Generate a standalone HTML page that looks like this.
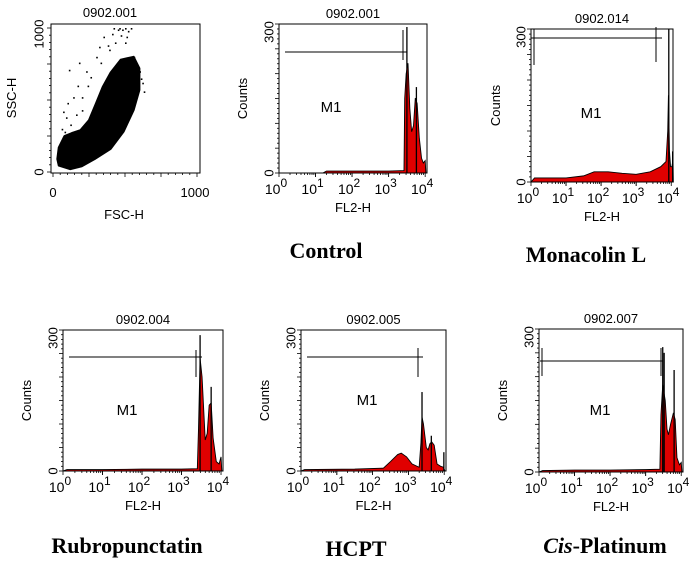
<!DOCTYPE html>
<html><head><meta charset="utf-8">
<style>
body{margin:0;background:#fff;}
svg{display:block;font-family:"Liberation Sans",Arial,sans-serif;}
.cap{font-family:"Liberation Serif",serif;font-weight:bold;font-size:22px;}
</style></head>
<body>
<svg id="fig" width="700" height="565" viewBox="0 0 700 565"></svg>
<script>
// ---- data ----
const scatterCloud=[[40,45],[120,20],[200,40],[290,90],[400,160],[490,280],[560,430],[600,570],[600,720],[560,800],[470,780],[400,690],[345,590],[300,480],[250,360],[190,290],[130,270],[80,250],[40,170],[30,90]];
const scatterOutliers=[[110,710],[180,760],[140,520],[90,380],[200,430],[120,330],[260,660],[300,800],[320,870],[350,940],[410,960],[450,990],[480,990],[520,980],[600,700],[610,650],[380,880],[430,900],[80,280],[60,300],[560,800],[500,900],[160,400],[240,600],[420,1000],[460,1000],[500,1000],[540,1000],[470,950],[510,940],[390,850],[330,760],[620,620],[630,560],[200,520],[170,600],[100,480],[70,420],[230,700]];
const ctrlX=[0,1.2,1.3,2,3,3.42,3.44,3.48,3.53,3.58,3.63,3.68,3.73,3.78,3.84,3.9,3.95,4,4.02];
const ctrlY=[0,0,4,4,4,5,150,200,221,130,83,95,151,140,70,30,20,25,0];
const ctrlSpikeX=[3.5,3.76];const ctrlSpikeY=[294,173];
const monoX=[0,0.1,1,1.5,1.8,2.2,2.6,3,3.4,3.7,3.85,3.9,3.92,3.95,3.98,4.02,4.05,4.06];
const monoY=[0,8,8,12,20,20,17,15,20,30,40,100,170,60,30,30,45,0];
const monoSpikeX=[3.93,4.04];const monoSpikeY=[300,60];
const rubX=[0,0.1,1,2,3,3.4,3.43,3.47,3.52,3.6,3.65,3.7,3.75,3.8,3.88,3.95,4,4.02];
const rubY=[0,3,3,4,4,5,90,240,200,66,80,140,145,70,20,15,30,0];
const rubSpikeX=[3.47,3.75];const rubSpikeY=[289,179];
const hcX=[0,0.1,1.5,2.3,2.5,2.7,2.8,2.95,3.1,3.3,3.35,3.38,3.42,3.5,3.55,3.6,3.65,3.72,3.8,3.9,3.98,4.02];
const hcY=[0,3,4,6,20,35,38,30,15,8,60,115,100,50,45,58,62,55,15,10,8,0];
const hcSpikeX=[3.38,3.64,3.99];const hcSpikeY=[168,75,40];
const cisX=[0,0.1,1,2,3,3.4,3.43,3.48,3.55,3.6,3.64,3.7,3.78,3.83,3.88,3.95,4,4.02];
const cisY=[0,3,4,4,5,6,120,183,150,90,78,100,124,110,30,15,20,0];
const cisSpikeX=[3.48,3.52,3.8];const cisSpikeY=[262,250,214];
const xTickLabels=["0","1","2","3","4"];
// ---- drawing ----
const NS="http://www.w3.org/2000/svg",svg=document.getElementById('fig');
function mk(t,a,p){const e=document.createElementNS(NS,t);for(const k in a)e.setAttribute(k,a[k]);(p||svg).appendChild(e);return e;}
function txt(x,y,s,size,rot,p){const e=mk('text',{x:x,y:y,'font-size':size,'text-anchor':'middle',fill:'#000'},p);if(rot)e.setAttribute('transform','rotate(-90 '+x+' '+y+')');e.textContent=s;return e;}
function hist(cfg){
 const g=mk('g',{});
 
 
 const L=cfg.x0,R=cfg.x1,T=cfg.y0,B=cfg.y1;
 const sx=v=>L+v/4.05*(R-L), sy=v=>B-v/300*(B-T);
 let pts=cfg.xs.map((v,i)=>sx(v)+','+sy(cfg.ys[i])).join(' ');
 const area=mk('polygon',{points:pts,fill:'#e00000',stroke:'#000','stroke-width':0.9},g);
 
 
 cfg.sx.forEach((v,i)=>{const l=mk('line',{x1:sx(v),x2:sx(v),y1:B,y2:sy(cfg.sy[i]),stroke:'#000','stroke-width':1.3},g);
  
  });
 mk('rect',{x:L,y:T,width:R-L,height:B-T,fill:'none',stroke:'#000','stroke-width':1},g);
 for(let i=0;i<=30;i++){mk('line',{x1:L-(i%5?2:4),x2:L,y1:sy(i*10),y2:sy(i*10),stroke:'#000','stroke-width':0.8},g);}
 for(let d=0;d<4;d++)for(let k=1;k<=10;k++){const xx=sx(d+Math.log10(k));mk('line',{x1:xx,x2:xx,y1:B,y2:B+(k==1||k==10?4:2),stroke:'#000','stroke-width':0.8},g);}
 xTickLabels.forEach((s,i)=>{const t=txt(sx(i)-3,B+21,'10',14,0,g);
  const u=mk('tspan',{dy:-7,'font-size':12},t);u.textContent=s;});
 const y3=txt(L-9,T+8,'300',13,1,g);y3.setAttribute('dominant-baseline','middle');
 txt(L-9,B,'0',13,1,g).setAttribute('dominant-baseline','middle');
 txt(cfg.cx,(T+B)/2,'Counts',13,1,g);
 txt((L+R)/2,B+39,'FL2-H',13,0,g);
 txt((L+R)/2,T-6,cfg.title,13,0,g);
 txt(cfg.m1[0],cfg.m1[1],'M1',15,0,g);
 const gate=mk('g',{stroke:'#000','stroke-width':1},g);
 
 
 mk('line',{x1:cfg.gate[0],x2:cfg.gate[1],y1:cfg.gate[2],y2:cfg.gate[2]},gate);
 cfg.gateV.forEach(v=>mk('line',{x1:v[0],x2:v[0],y1:v[1],y2:v[2]},gate));
 const c=mk('text',{x:cfg.cap[0],y:cfg.cap[1],'text-anchor':'middle',class:'cap'});
 
 
 if(cfg.capIt){const a=mk('tspan',{'font-style':'italic'},c);a.textContent=cfg.capIt;const b=mk('tspan',{},c);b.textContent=cfg.capText;}else c.textContent=cfg.capText;
}
(function(){
 const g=mk('g',{});
 
 
 const sx=v=>53+v/1000*144, sy=v=>172-v/1000*144;
 const cl=mk('polygon',{points:scatterCloud.map(p=>sx(p[0])+','+sy(p[1])).join(' '),fill:'#000',stroke:'#000','stroke-width':2,'stroke-linejoin':'round'},g);
 
 
 scatterOutliers.forEach(p=>{const d=mk('rect',{x:sx(p[0]),y:sy(p[1]),width:1.6,height:1.6,fill:'#000'},g);
  
  });
 mk('rect',{x:51,y:24,width:149,height:149,fill:'none',stroke:'#000'},g);
 for(let i=0;i<=20;i++){mk('line',{x1:51-(i%5?2:4),x2:51,y1:sy(i*50),y2:sy(i*50),stroke:'#000','stroke-width':0.8},g);
  mk('line',{x1:sx(i*50),x2:sx(i*50),y1:173,y2:173+(i%5?2:4),stroke:'#000','stroke-width':0.8},g);}
 txt(40,sy(1000)+6,'1000',13,1,g).setAttribute('dominant-baseline','middle');
 txt(40,sy(0),'0',13,1,g).setAttribute('dominant-baseline','middle');
 txt(sx(0),197,'0',13,0,g);txt(sx(1000)-2,197,'1000',13,0,g);
 txt(16,98,'SSC-H',13,1,g);txt(124,219,'FSC-H',13,0,g);txt(110,17,'0902.001',13,0,g);
})();
hist({name:'control-histogram',x0:279,x1:427,y0:24,y1:173,xs:ctrlX,ys:ctrlY,sx:ctrlSpikeX,sy:ctrlSpikeY,title:'0902.001',cx:247,m1:[331,112],gate:[285,407,52],gateV:[[403,30,60],[407,28,60]],cap:[326,258],capText:'Control'});
hist({name:'monacolin-histogram',x0:531,x1:673,y0:29,y1:182,xs:monoX,ys:monoY,sx:monoSpikeX,sy:monoSpikeY,title:'0902.014',cx:500,m1:[591,118],gate:[531,662,38],gateV:[[534,29,65],[656,27,62]],cap:[586,262],capText:'Monacolin L'});
hist({name:'rubropunctatin-histogram',x0:63,x1:223,y0:330,y1:471,xs:rubX,ys:rubY,sx:rubSpikeX,sy:rubSpikeY,title:'0902.004',cx:31,m1:[127,415],gate:[69,202,357],gateV:[[196,350,377]],cap:[127,553],capText:'Rubropunctatin'});
hist({name:'hcpt-histogram',x0:301,x1:446,y0:330,y1:471,xs:hcX,ys:hcY,sx:hcSpikeX,sy:hcSpikeY,title:'0902.005',cx:269,m1:[367,405],gate:[307,423,357],gateV:[[418,348,377]],cap:[356,556],capText:'HCPT'});
hist({name:'cis-platinum-histogram',x0:539,x1:683,y0:329,y1:472,xs:cisX,ys:cisY,sx:cisSpikeX,sy:cisSpikeY,title:'0902.007',cx:507,m1:[600,415],gate:[540,663,361],gateV:[[542,348,376],[661,348,376]],cap:[605,553],capIt:'Cis',capText:'-Platinum'});
</script>
</body></html>
